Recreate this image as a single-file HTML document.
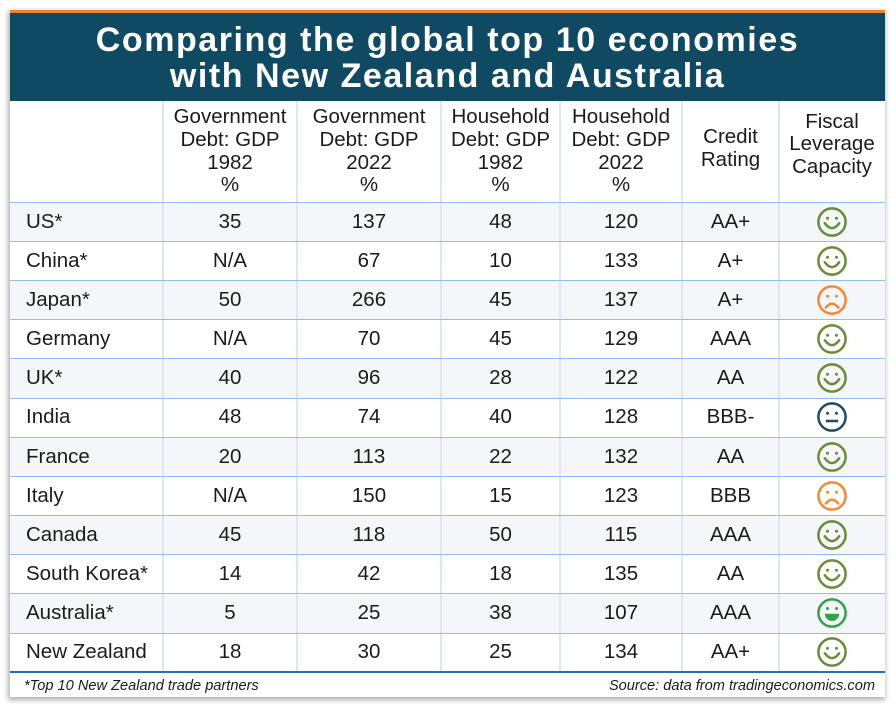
<!DOCTYPE html>
<html><head><meta charset="utf-8">
<style>
*{margin:0;padding:0;box-sizing:border-box}
html,body{width:896px;height:707px;background:#fff;overflow:hidden}
body{position:relative;font-family:"Liberation Sans",Arial,Helvetica,sans-serif;color:#1b1b1b}
#card{position:absolute;left:10px;top:10px;width:875px;height:687px;background:#fff;box-shadow:-1px 2px 5px 1px rgba(0,0,0,0.32)}
#orange{position:absolute;left:10px;top:10px;width:875px;height:3px;background:#f0842c}
#head{position:absolute;left:10px;top:13px;width:875px;height:88px;background:#0f4a62}
.t{position:absolute;left:10px;width:875px;text-align:center;color:#fff;font-weight:bold;font-size:34px;letter-spacing:1.55px;line-height:36px;white-space:nowrap}
.hdr{position:absolute;top:101px;height:101px;display:flex;align-items:center;justify-content:center;text-align:center;font-size:20.5px;line-height:22.6px;color:#1b1b1b}
.row{position:absolute;left:10px;width:875px;height:39.17px;display:flex;font-size:20.5px}
.row div{display:flex;align-items:center;justify-content:center;height:100%}
.row .c0{width:153px;justify-content:flex-start;padding-left:16px}
.c1{width:134px}.c2{width:144px}.c3{width:119px}.c4{width:122px}.c5{width:97px}.c6{width:106px}
.alt{background:#f4f6fa}
.hl{position:absolute;left:10px;width:875px;height:1px;background:#93bfe5}
.vl{position:absolute;top:101px;width:2px;height:571px;background:#dde6f1}
.foot{position:absolute;top:678px;font-style:italic;font-size:14.6px;color:#1b1b1b}
svg{display:block}
</style></head><body>
<div id="card"></div>
<div id="orange"></div>
<div id="head"></div>
<div class="t" style="top:22px">Comparing the global top 10 economies</div>
<div class="t" style="top:58px">with New Zealand and Australia</div>

<div class="hdr" style="left:163px;width:134px">Government<br>Debt: GDP<br>1982<br>%</div>
<div class="hdr" style="left:297px;width:144px">Government<br>Debt: GDP<br>2022<br>%</div>
<div class="hdr" style="left:441px;width:119px">Household<br>Debt: GDP<br>1982<br>%</div>
<div class="hdr" style="left:560px;width:122px">Household<br>Debt: GDP<br>2022<br>%</div>
<div class="hdr" style="left:682px;width:97px;top:98px">Credit<br>Rating</div>
<div class="hdr" style="left:779px;width:106px;top:94px">Fiscal<br>Leverage<br>Capacity</div>

<svg width="0" height="0" style="position:absolute">
<defs>
<g id="happy" fill="none" stroke="#6c8a3b" stroke-width="2.5"><circle cx="16" cy="16" r="13.6"/><circle cx="11.5" cy="12.3" r="1.5" fill="#6c8a3b" stroke="none"/><circle cx="20.5" cy="12.3" r="1.5" fill="#6c8a3b" stroke="none"/><path d="M8.8 17.3 Q16 27 23.2 17.3" stroke-linecap="round"/></g>
<g id="sad" fill="none" stroke="#f08a3a" stroke-width="2.5"><circle cx="16" cy="16" r="13.6"/><circle cx="11.5" cy="12.3" r="1.5" fill="#f08a3a" stroke="none"/><circle cx="20.5" cy="12.3" r="1.5" fill="#f08a3a" stroke="none"/><path d="M9.8 23.5 Q16 15.8 22.2 23.5" stroke-linecap="round"/></g>
<g id="neutral" fill="none" stroke="#1d4d63" stroke-width="2.5"><circle cx="16" cy="16" r="13.6"/><circle cx="11.5" cy="12.3" r="1.5" fill="#1d4d63" stroke="none"/><circle cx="20.5" cy="12.3" r="1.5" fill="#1d4d63" stroke="none"/><path d="M9.8 20 H22.2"/></g>
<g id="grin" fill="none" stroke="#33a04a" stroke-width="2.5"><circle cx="16" cy="16" r="13.6"/><circle cx="11.5" cy="11.5" r="1.5" fill="#33a04a" stroke="none"/><circle cx="20.5" cy="11.5" r="1.5" fill="#33a04a" stroke="none"/><path d="M8.8 16.8 H23.2 A7.2 7.2 0 0 1 8.8 16.8 Z" fill="#33a04a" stroke="none"/></g>
</defs></svg>

<div class="row alt" style="top:202px"><div class="c0">US*</div><div class="c1">35</div><div class="c2">137</div><div class="c3">48</div><div class="c4">120</div><div class="c5">AA+</div><div class="c6"><svg width="32" height="32" viewBox="0 0 32 32"><use href="#happy"/></svg></div></div>
<div class="row" style="top:241.17px"><div class="c0">China*</div><div class="c1">N/A</div><div class="c2">67</div><div class="c3">10</div><div class="c4">133</div><div class="c5">A+</div><div class="c6"><svg width="32" height="32" viewBox="0 0 32 32"><use href="#happy"/></svg></div></div>
<div class="row alt" style="top:280.34px"><div class="c0">Japan*</div><div class="c1">50</div><div class="c2">266</div><div class="c3">45</div><div class="c4">137</div><div class="c5">A+</div><div class="c6"><svg width="32" height="32" viewBox="0 0 32 32"><use href="#sad"/></svg></div></div>
<div class="row" style="top:319.51px"><div class="c0">Germany</div><div class="c1">N/A</div><div class="c2">70</div><div class="c3">45</div><div class="c4">129</div><div class="c5">AAA</div><div class="c6"><svg width="32" height="32" viewBox="0 0 32 32"><use href="#happy"/></svg></div></div>
<div class="row alt" style="top:358.68px"><div class="c0">UK*</div><div class="c1">40</div><div class="c2">96</div><div class="c3">28</div><div class="c4">122</div><div class="c5">AA</div><div class="c6"><svg width="32" height="32" viewBox="0 0 32 32"><use href="#happy"/></svg></div></div>
<div class="row" style="top:397.85px"><div class="c0">India</div><div class="c1">48</div><div class="c2">74</div><div class="c3">40</div><div class="c4">128</div><div class="c5">BBB-</div><div class="c6"><svg width="32" height="32" viewBox="0 0 32 32"><use href="#neutral"/></svg></div></div>
<div class="row alt" style="top:437.02px"><div class="c0">France</div><div class="c1">20</div><div class="c2">113</div><div class="c3">22</div><div class="c4">132</div><div class="c5">AA</div><div class="c6"><svg width="32" height="32" viewBox="0 0 32 32"><use href="#happy"/></svg></div></div>
<div class="row" style="top:476.19px"><div class="c0">Italy</div><div class="c1">N/A</div><div class="c2">150</div><div class="c3">15</div><div class="c4">123</div><div class="c5">BBB</div><div class="c6"><svg width="32" height="32" viewBox="0 0 32 32"><use href="#sad"/></svg></div></div>
<div class="row alt" style="top:515.36px"><div class="c0">Canada</div><div class="c1">45</div><div class="c2">118</div><div class="c3">50</div><div class="c4">115</div><div class="c5">AAA</div><div class="c6"><svg width="32" height="32" viewBox="0 0 32 32"><use href="#happy"/></svg></div></div>
<div class="row" style="top:554.53px"><div class="c0">South Korea*</div><div class="c1">14</div><div class="c2">42</div><div class="c3">18</div><div class="c4">135</div><div class="c5">AA</div><div class="c6"><svg width="32" height="32" viewBox="0 0 32 32"><use href="#happy"/></svg></div></div>
<div class="row alt" style="top:593.7px"><div class="c0">Australia*</div><div class="c1">5</div><div class="c2">25</div><div class="c3">38</div><div class="c4">107</div><div class="c5">AAA</div><div class="c6"><svg width="32" height="32" viewBox="0 0 32 32"><use href="#grin"/></svg></div></div>
<div class="row" style="top:632.87px"><div class="c0">New Zealand</div><div class="c1">18</div><div class="c2">30</div><div class="c3">25</div><div class="c4">134</div><div class="c5">AA+</div><div class="c6"><svg width="32" height="32" viewBox="0 0 32 32"><use href="#happy"/></svg></div></div>

<div class="vl" style="left:162px"></div>
<div class="vl" style="left:296px"></div>
<div class="vl" style="left:440px"></div>
<div class="vl" style="left:559px"></div>
<div class="vl" style="left:681px"></div>
<div class="vl" style="left:778px"></div>

<div class="hl" style="top:202px"></div>
<div class="hl" style="top:241px"></div>
<div class="hl" style="top:280px"></div>
<div class="hl" style="top:319px"></div>
<div class="hl" style="top:358px"></div>
<div class="hl" style="top:398px"></div>
<div class="hl" style="top:437px"></div>
<div class="hl" style="top:476px"></div>
<div class="hl" style="top:515px"></div>
<div class="hl" style="top:554px"></div>
<div class="hl" style="top:593px"></div>
<div class="hl" style="top:633px"></div>
<div style="position:absolute;left:10px;top:671px;width:875px;height:2px;background:#2c6dad"></div>

<div class="foot" style="left:24px">*Top 10 New Zealand trade partners</div>
<div class="foot" style="right:21px">Source: data from tradingeconomics.com</div>
</body></html>
